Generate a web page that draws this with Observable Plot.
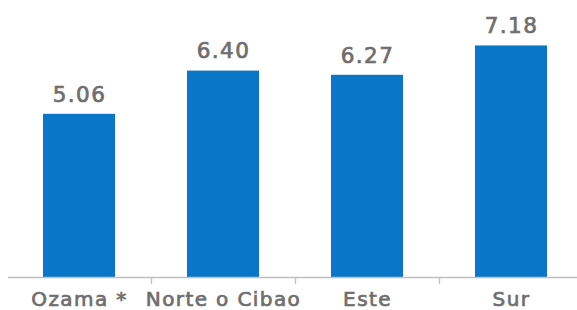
<!DOCTYPE html>
<html>
<head>
<meta charset="utf-8">
<script src="https://cdn.jsdelivr.net/npm/d3@7"></script>
<script src="https://cdn.jsdelivr.net/npm/@observablehq/plot@0.6"></script>
<style>
  html, body { margin: 0; padding: 0; background: #fff; }
  #chart svg { display: block; }
  #chart svg text { letter-spacing: 1.4px; stroke: #6e6e6e; stroke-width: 0.7px; }
</style>
</head>
<body>
<div id="chart"></div>
<script>
const categories = ["Ozama *", "Norte o Cibao", "Este", "Sur"];
const values = [5.06, 6.40, 6.27, 7.18];
const valueLabels = ["5.06", "6.40", "6.27", "7.18"];

const data = categories.map((c, i) => ({cat: c, value: values[i], label: valueLabels[i]}));

const font = "'DejaVu Sans', sans-serif";
const gray = "#6e6e6e";

const tickShape = {
  draw(context, l) {
    context.moveTo(0, 0);
    context.lineTo(0, -l);
  }
};

const chart = Plot.plot({
  width: 577,
  height: 310,
  marginLeft: 8,
  marginRight: 0,
  marginTop: 19,
  marginBottom: 33,
  style: {fontFamily: font, background: "#fff", overflow: "visible"},
  x: {domain: categories, range: [7, 583], paddingInner: 0.5, paddingOuter: 0.25, label: null},
  y: {domain: [0, 8], axis: null},
  marks: [
    Plot.barY(data, {x: "cat", y: "value", fill: "#0a76c8"}),
    Plot.ruleY([0], {stroke: "#bfbfbf", strokeWidth: 1.3}),
    Plot.vector(categories.slice(0, 3), {x: d => d, y: () => 0, dx: 72, length: 6, rotate: 180, anchor: "start", shape: tickShape, stroke: "#bfbfbf", strokeWidth: 1.3}),
    Plot.axisX({tickSize: 0, tickPadding: 14.5, fontSize: 20, fill: gray, label: null}),
    Plot.text(data, {x: "cat", y: "value", text: "label", dy: -19.5, fontSize: 21.5, fill: gray})
  ]
});
document.getElementById("chart").appendChild(chart);
</script>
</body>
</html>
